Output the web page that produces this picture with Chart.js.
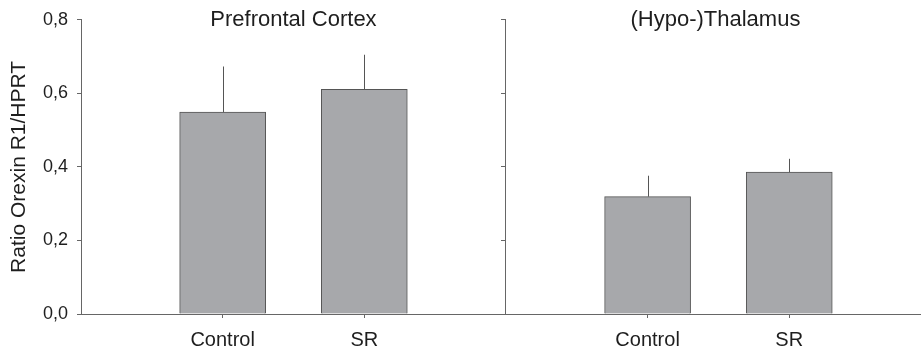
<!DOCTYPE html>
<html>
<head>
<meta charset="utf-8">
<script src="https://cdn.jsdelivr.net/npm/chart.js@4"></script>
<style>
  html, body { margin: 0; padding: 0; background: #fff; }
  #wrap { width: 921px; height: 354px; }
</style>
</head>
<body>
<div id="wrap"><canvas id="myChart"></canvas></div>
<script>
  const regions = ['Prefrontal Cortex', '(Hypo-)Thalamus'];
  const groups = ['Control', 'SR'];
  // x positions: region 0 -> 1,2 ; region 1 -> 4,5
  const positions = [1, 2, 4, 5];
  const means = [0.549, 0.611, 0.319, 0.386];
  const errors = [0.124, 0.094, 0.057, 0.036];
  const yTickLabels = ['0,0', '0,2', '0,4', '0,6', '0,8'];

  const font = 'Liberation Sans, Arial, sans-serif';
  const axisColor = '#666';

  const points = positions.map((x, i) => ({ x: x, y: means[i] }));

  const errorBars = {
    id: 'errorBars',
    afterDatasetsDraw(chart) {
      const c = chart.ctx;
      const ys = chart.scales.y;
      const meta = chart.getDatasetMeta(0);
      c.save();
      c.strokeStyle = '#555';
      c.lineWidth = 1;
      meta.data.forEach((bar, i) => {
        const x = Math.round(bar.x) + 0.5;
        c.beginPath();
        c.moveTo(x, ys.getPixelForValue(means[i]));
        c.lineTo(x, ys.getPixelForValue(means[i] + errors[i]));
        c.stroke();
      });
      c.restore();
    },
    afterDraw(chart) {
      const c = chart.ctx;
      const xs = chart.scales.x;
      c.save();
      c.fillStyle = '#1e1e1e';
      c.font = '22px ' + font;
      c.textAlign = 'center';
      c.textBaseline = 'alphabetic';
      regions.forEach((r, i) => {
        c.fillText(r, xs.getPixelForValue(1.5 + i * 3) - i * 3, 26);
      });
      c.restore();
    }
  };

  new Chart(document.getElementById('myChart'), {
    type: 'bar',
    data: {
      datasets: [{
        data: points,
        backgroundColor: '#a7a8ab',
        borderColor: '#555',
        borderWidth: 1,
        barThickness: 86
      }]
    },
    options: {
      responsive: true,
      maintainAspectRatio: false,
      animation: false,
      layout: { padding: { top: 18, left: 0, right: 0, bottom: 0 } },
      plugins: {
        legend: { display: false },
        tooltip: { enabled: false }
      },
      scales: {
        x: {
          type: 'linear',
          min: 0,
          max: 5.93,
          offset: false,
          afterBuildTicks: (s) => { s.ticks = positions.map(v => ({ value: v })); },
          afterFit: (s) => { s.height = 40; },
          ticks: {
            autoSkip: false,
            maxRotation: 0,
            padding: 10,
            color: '#1e1e1e',
            font: { family: font, size: 20 },
            callback: (v) => groups[positions.indexOf(v) % 2]
          },
          grid: { offset: false, drawOnChartArea: false, drawTicks: true, tickLength: 4, color: axisColor },
          border: { color: axisColor, width: 1 }
        },
        y: {
          min: 0,
          max: 0.8,
          afterFit: (s) => { s.width = 81; },
          ticks: {
            stepSize: 0.2,
            padding: 9,
            color: '#1e1e1e',
            font: { family: font, size: 18 },
            callback: (v, i) => yTickLabels[i]
          },
          grid: { drawOnChartArea: false, drawTicks: true, tickLength: 4, color: axisColor },
          border: { color: axisColor, width: 1 },
          title: {
            display: true,
            text: 'Ratio Orexin R1/HPRT',
            color: '#1e1e1e',
            font: { family: font, size: 21 },
            padding: { top: 7, bottom: 0 }
          }
        },
        y2: {
          position: { x: 3 },
          min: 0,
          max: 0.8,
          ticks: { stepSize: 0.2, callback: () => '' },
          grid: { drawOnChartArea: false, drawTicks: true, tickLength: 4, color: axisColor },
          border: { color: axisColor, width: 1 }
        }
      }
    },
    plugins: [errorBars]
  });
</script>
</body>
</html>
